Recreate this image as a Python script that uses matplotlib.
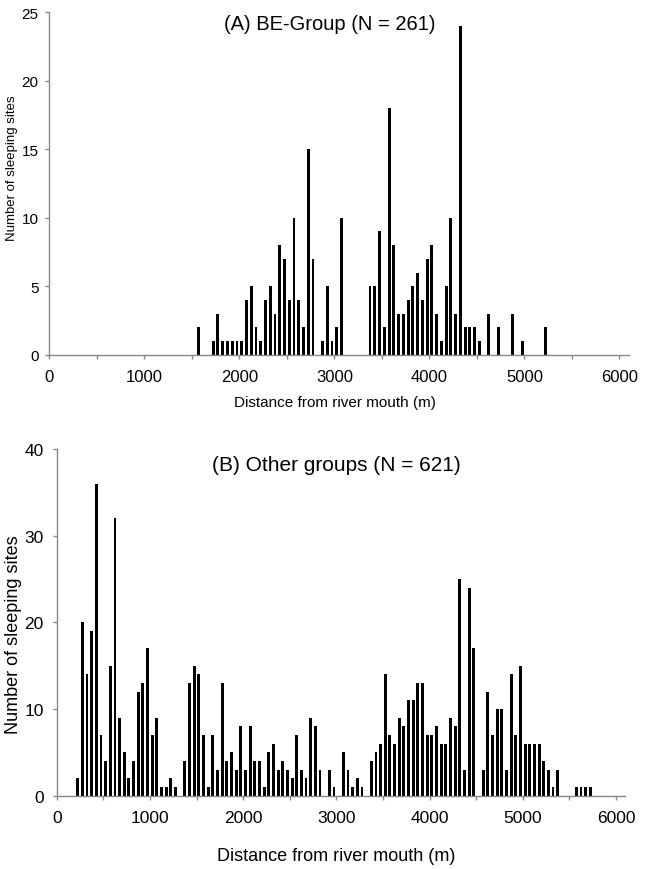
import numpy as np
from matplotlib import pyplot as plt

plt.rcParams['font.family'] = ['Liberation Sans', 'DejaVu Sans']

bin_width = 50

# (A) BE-Group: counts per 50 m bin, first bin starts at 1550 m
a_start = 1550
a_counts = [2, 0, 0, 1, 3, 1, 1, 1, 1, 1, 4, 5, 2, 1, 4, 5, 3, 8, 7, 4,
            10, 4, 2, 15, 7, 0, 1, 5, 1, 2, 10, 0, 0, 0, 0, 0, 5, 5, 9, 2,
            18, 8, 3, 3, 4, 5, 6, 4, 7, 8, 3, 1, 5, 10, 3, 24, 2, 2, 2, 1,
            0, 3, 0, 2, 0, 0, 3, 0, 1, 0, 0, 0, 0, 2]

# (B) Other groups: counts per 50 m bin, first bin starts at 200 m
b_start = 200
b_counts = [2, 20, 14, 19, 36, 7, 4, 15, 32, 9, 5, 2, 4, 12, 13, 17, 7, 9, 1, 1,
            2, 1, 0, 4, 13, 15, 14, 7, 1, 7, 3, 13, 4, 5, 3, 8, 3, 8, 4, 4,
            1, 5, 6, 3, 4, 3, 2, 7, 3, 2, 9, 8, 3, 0, 3, 1, 0, 5, 3, 1,
            2, 1, 0, 4, 5, 6, 14, 7, 6, 9, 8, 11, 11, 13, 13, 7, 7, 8, 6, 6,
            9, 8, 25, 3, 24, 17, 0, 3, 12, 7, 10, 10, 3, 14, 7, 15, 6, 6, 6, 6,
            4, 3, 1, 3, 0, 0, 0, 1, 1, 1, 1]

x_ticks = np.arange(0, 6001, 500)
x_labels = [str(t) if t % 1000 == 0 else '' for t in x_ticks]

title_a = '(A) BE-Group (N = 261)'
title_b = '(B) Other groups (N = 621)'
xlabel = 'Distance from river mouth (m)'
ylabel = 'Number of sleeping sites'


def centers(start, counts):
    return start + bin_width * np.arange(len(counts)) + bin_width / 2


def style_axes(ax, ymax, ystep, fs_x, fs_y, ypad):
    ax.set_xlim(0, 6100)
    ax.set_ylim(0, ymax)
    ax.set_xticks(x_ticks)
    ax.set_xticklabels(x_labels, fontsize=fs_x)
    ax.set_yticks(np.arange(0, ymax + 1, ystep))
    ax.tick_params(axis='y', labelsize=fs_y)
    for s in ['top', 'right']:
        ax.spines[s].set_visible(False)
    for s in ['left', 'bottom']:
        ax.spines[s].set_color('#888888')
        ax.spines[s].set_linewidth(1.0)
    ax.tick_params(colors='#888888', labelcolor='black', length=3, width=1.0)
    ax.tick_params(axis='x', pad=7.5)
    ax.tick_params(axis='y', pad=ypad)


fig = plt.figure(figsize=(6.51, 8.70), dpi=100)

ax1 = fig.add_axes([0.0757, 0.5911, 0.8905, 0.3936])
ax1.bar(centers(a_start, a_counts), a_counts, width=31, color='black')
style_axes(ax1, 25, 5, 12, 11, 4.8)
fig.text(330 / 651, 1 - 24 / 870, title_a, ha='center', va='center', fontsize=14.5)
fig.text(335 / 651, 1 - 403 / 870, xlabel, ha='center', va='center', fontsize=11)
fig.text(12 / 651, 1 - 168 / 870, ylabel, ha='center', va='center', rotation=90, fontsize=9.5)

ax2 = fig.add_axes([0.0871, 0.0843, 0.8734, 0.3985])
ax2.bar(centers(b_start, b_counts), b_counts, width=31, color='black')
style_axes(ax2, 40, 10, 12.5, 12.5, 6.5)
fig.text(336.7 / 651, 1 - 466 / 870, title_b, ha='center', va='center', fontsize=15)
fig.text(336 / 651, 1 - 857 / 870, xlabel, ha='center', va='center', fontsize=13)
fig.text(14 / 651, 1 - 635 / 870, ylabel, ha='center', va='center', rotation=90, fontsize=13)

fig.savefig('out.png', dpi=100)
